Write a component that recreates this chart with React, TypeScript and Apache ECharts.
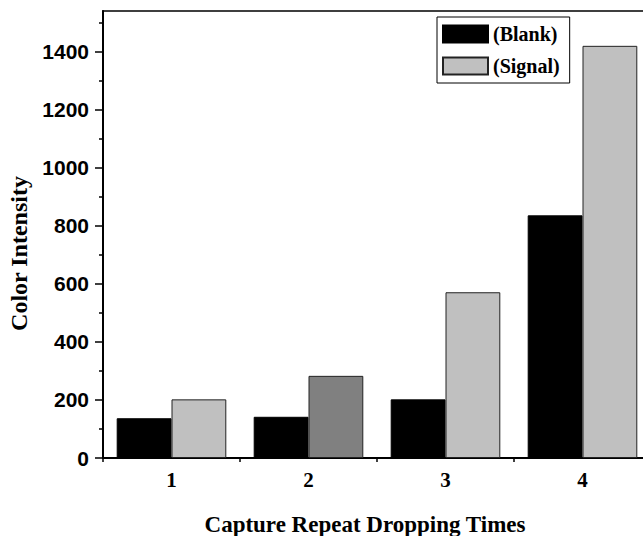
import React, { useEffect, useRef } from "react";
import * as echarts from "echarts";

const categories = ["1", "2", "3", "4"];
const blankValues = [137, 142, 202, 836];
const signalValues = [202, 283, 571, 1420];
const signalColors = ["#c0c0c0", "#808080", "#c0c0c0", "#c0c0c0"];
const majorTicks = [0, 200, 400, 600, 800, 1000, 1200, 1400];
const minorTicks = [100, 300, 500, 700, 900, 1100, 1300, 1500];

export default function App() {
  const ref = useRef<HTMLDivElement>(null);
  useEffect(() => {
    if (!ref.current) return;
    const chart = echarts.init(ref.current, null, { renderer: "svg" });
    const serif = "'Liberation Serif', 'Times New Roman', serif";
    const sans = "'Liberation Sans', Arial, sans-serif";
    chart.setOption({
      animation: false,
      backgroundColor: "#ffffff",
      grid: {
        left: 103,
        top: 11,
        width: 548,
        height: 447,
        outerBoundsMode: "none",
        containLabel: false,
        show: true,
        borderColor: "#000",
        borderWidth: 1.5,
        backgroundColor: "transparent",
      },
      legend: {
        orient: "vertical",
        left: 437,
        top: 17,
        padding: [7, 10, 7, 5],
        itemGap: 12,
        itemWidth: 45,
        itemHeight: 17,
        icon: "rect",
        borderColor: "#000",
        borderWidth: 1,
        backgroundColor: "#fff",
        textStyle: { fontFamily: serif, fontWeight: "bold", fontSize: 20, color: "#000" },
        data: ["(Blank)", "(Signal)"],
      },
      xAxis: [
        {
          type: "category",
          data: categories,
          position: "bottom",
          axisLine: { lineStyle: { color: "#000", width: 2 } },
          axisTick: { alignWithLabel: true, length: 8, lineStyle: { color: "#000", width: 1.5 } },
          axisLabel: { fontFamily: serif, fontWeight: "bold", fontSize: 21, color: "#000", margin: 11 },
          splitLine: { show: false },
          name: "Capture Repeat Dropping Times",
          nameLocation: "middle",
          nameGap: 55,
          nameTextStyle: { fontFamily: serif, fontWeight: "bold", fontSize: 23, color: "#000", padding: [0, 24, 0, 0] },
        },
        {
          type: "value",
          min: 0,
          max: 4,
          interval: 1,
          position: "bottom",
          axisLine: { show: false },
          axisTick: { show: true, length: 4, lineStyle: { color: "#000", width: 1.5 } },
          axisLabel: { show: false },
          splitLine: { show: false },
        },
      ],
      yAxis: [
        {
          type: "value",
          min: 0,
          max: 1540,
          interval: 200,
          position: "left",
          axisLine: { show: true, lineStyle: { color: "#000", width: 2 } },
          axisTick: { show: true, length: 8, customValues: majorTicks, lineStyle: { color: "#000", width: 1.5 } },
          axisLabel: {
            customValues: majorTicks,
            formatter: (v: number) => String(v),
            fontFamily: sans,
            fontWeight: "bold",
            fontSize: 21,
            color: "#000",
            margin: 14,
          },
          splitLine: { show: false },
          name: "Color Intensity",
          nameLocation: "middle",
          nameGap: 68,
          nameTextStyle: { fontFamily: serif, fontWeight: "bold", fontSize: 24, color: "#000", padding: [0, 38, 0, 0] },
        },
        {
          type: "value",
          min: 0,
          max: 1540,
          position: "left",
          axisLine: { show: false },
          axisTick: { show: true, length: 4, customValues: minorTicks, lineStyle: { color: "#000", width: 1.5 } },
          axisLabel: { show: false },
          splitLine: { show: false },
        },
      ],
      series: [
        {
          name: "(Blank)",
          type: "bar",
          xAxisIndex: 0,
          yAxisIndex: 0,
          barGap: "0%",
          barCategoryGap: "20%",
          itemStyle: { color: "#000", borderColor: "#000", borderWidth: 1 },
          data: blankValues,
        },
        {
          name: "(Signal)",
          type: "bar",
          xAxisIndex: 0,
          yAxisIndex: 0,
          barGap: "0%",
          barCategoryGap: "20%",
          itemStyle: { color: "#c0c0c0", borderColor: "#222", borderWidth: 1 },
          data: signalValues.map((v, i) => ({ value: v, itemStyle: { color: signalColors[i] } })),
        },
      ],
    });
    return () => chart.dispose();
  }, []);
  return <div ref={ref} style={{ width: 643, height: 536, position: "absolute", left: 0, top: 0 }} />;
}
